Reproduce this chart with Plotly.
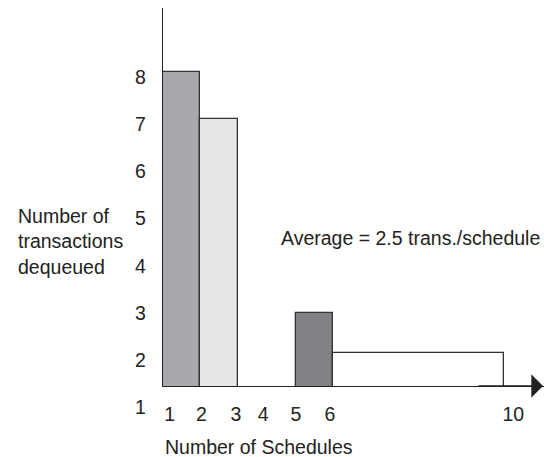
import plotly.graph_objects as go

# Bars: start position and width along the schedule axis (bar-width units), height = transactions
bar_left = [0.0, 1.0, 3.56, 4.56]
bar_width = [1.0, 1.0, 1.0, 4.58]
transactions = [8.1, 7.1, 3.0, 2.15]
bar_colors = ["#a7a9ac", "#e6e7e8", "#808285", "#ffffff"]

# Axis labels
x_tick_pos = [0.18, 1.03, 1.95, 2.68, 3.56, 4.47, 9.38]
x_tick_text = ["1", "2", "3", "4", "5", "6", "10"]
y_ticks = [2, 3, 4, 5, 6, 7, 8]

X_RANGE = [0, 10.2]
Y_RANGE = [1.453, 9.458]

W, H = 544, 457
L, R, T, B = 163, 0, 8, 71
PW, PH = W - L - R, H - T - B

FONT = dict(family="Liberation Sans, Arial, sans-serif", size=19.5, color="#222222")
LINE = "#222222"


def px_x(px):
    return (px - L) / PW


def px_y(py):
    return (H - B - py) / PH


fig = go.Figure()
fig.add_trace(go.Bar(
    x=[l + w / 2 for l, w in zip(bar_left, bar_width)],
    y=transactions,
    width=bar_width,
    marker=dict(color=bar_colors, line=dict(color="#333333", width=1.3)),
    hoverinfo="skip",
))

fig.update_layout(
    width=W,
    height=H,
    font=FONT,
    plot_bgcolor="white",
    paper_bgcolor="white",
    margin=dict(l=L, r=R, t=T, b=B),
    showlegend=False,
    bargap=0,
)
fig.update_xaxes(
    range=X_RANGE,
    showgrid=False,
    zeroline=False,
    showline=True,
    linecolor=LINE,
    linewidth=1.3,
    tickmode="array",
    tickvals=x_tick_pos,
    ticktext=x_tick_text,
    ticks="outside",
    ticklen=10,
    tickcolor="rgba(0,0,0,0)",
)
fig.update_yaxes(
    range=Y_RANGE,
    showgrid=False,
    zeroline=False,
    showline=True,
    linecolor=LINE,
    linewidth=1.3,
    tickmode="array",
    tickvals=y_ticks,
    ticks="outside",
    ticklen=12,
    tickcolor="rgba(0,0,0,0)",
)

# the stray "1" below the x axis on the y scale
fig.add_annotation(
    text="1", xref="paper", yref="paper",
    x=0, y=(1 - Y_RANGE[0]) / (Y_RANGE[1] - Y_RANGE[0]),
    xanchor="right", yanchor="middle", xshift=-15, showarrow=False,
)
# y axis title
fig.add_annotation(
    text="Number of<br>transactions<br>dequeued", xref="paper", yref="paper",
    x=px_x(16), y=px_y(241), xanchor="left", yanchor="middle",
    align="left", showarrow=False,
)
# x axis title
fig.add_annotation(
    text="Number of Schedules", xref="paper", yref="paper",
    x=px_x(163), y=px_y(447), xanchor="left", yanchor="middle", showarrow=False,
)
fig.add_annotation(
    text="Average = 2.5 trans./schedule", xref="paper", yref="paper",
    x=px_x(279), y=px_y(238), xanchor="left", yanchor="middle", showarrow=False,
)
# arrow at the end of the x axis (tip just past the window edge, as in the original)
fig.add_annotation(
    text="", xref="paper", yref="paper", x=px_x(547), y=0,
    ax=-70, ay=0, showarrow=True, arrowhead=1, arrowsize=3,
    arrowwidth=1.3, arrowcolor=LINE,
)

# drop the default body margin so the figure sits at the window's corner
fig.write_html(
    "out.html",
    config={"displayModeBar": False},
    post_script="document.body.style.margin = '0';",
)
